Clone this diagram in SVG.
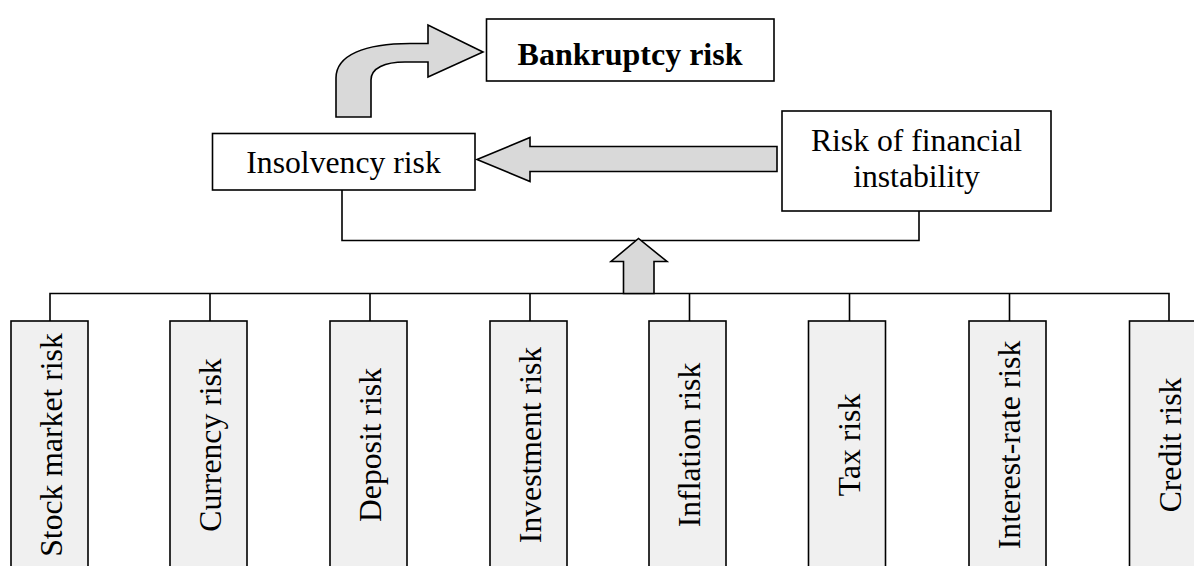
<svg xmlns="http://www.w3.org/2000/svg" width="1194" height="566" viewBox="0 0 1194 566">
  <style>
    .box { fill: #ffffff; stroke: #000000; stroke-width: 1.6; }
    .risk { fill: #f0f0f0; stroke: #000000; stroke-width: 1.6; }
    .arrow { fill: #d9d9d9; stroke: #000000; stroke-width: 1.6; stroke-linejoin: miter; }
    .wire { fill: none; stroke: #000000; stroke-width: 1.6; }
    .label { font-family: "Liberation Serif", "Times New Roman", serif; font-size: 31.7px; fill: #000000; text-anchor: middle; }
    .bold { font-weight: bold; font-size: 32px; }
  </style>

  <!-- connectors -->
  <g id="connectors">
    <!-- bracket joining the two middle-level boxes -->
    <path class="wire" d="M342,190 L342,240.5 L919,240.5 L919,211"/>
    <!-- bus feeding the eight risk boxes -->
    <path class="wire" d="M50,321 L50,293.5 L1169,293.5 L1169,321"/>
    <path class="wire" d="M210,293.5 V321 M370,293.5 V321 M530,293.5 V321 M689.5,293.5 V321 M849.5,293.5 V321 M1009.5,293.5 V321"/>
    <!-- block arrows -->
    <path class="arrow" d="M623.5,293.5 L623.5,261.5 L611,261.5 L638.5,238.5 L667,261.5 L654,261.5 L654,293.5 Z"/>
    <path class="arrow" d="M777,146.5 L530,146.5 L530,137.5 L477,159.5 L530,181.5 L530,171.5 L777,171.5 Z"/>
    <path class="arrow" d="M336,117 L336,78 C336,55 365,43.5 410,43.5 L428,43.5 L428,25 L483,52 L428,77 L428,62 L405,62 C385,62 371,68 371,80 L371,117 Z"/>
  </g>

  <g id="bankruptcy">
    <rect class="box" x="486.5" y="19" width="287.5" height="62"/>
    <text class="label bold" x="630" y="65">Bankruptcy risk</text>
  </g>

  <g id="insolvency">
    <rect class="box" x="212.5" y="133.5" width="262.5" height="56.5"/>
    <text class="label" x="343.5" y="173">Insolvency risk</text>
  </g>

  <g id="instability">
    <rect class="box" x="782" y="111" width="269" height="100"/>
    <text class="label" x="916.5" y="150.5">Risk of financial</text>
    <text class="label" x="916.5" y="187">instability</text>
  </g>

  <!-- risk factors, vertical labels read bottom-to-top -->
  <g id="stock-market">
    <rect class="risk" x="11" y="321" width="77" height="250"/>
    <text class="label" transform="translate(62,445) rotate(-90)">Stock market risk</text>
  </g>
  <g id="currency">
    <rect class="risk" x="170" y="321" width="77" height="250"/>
    <text class="label" transform="translate(221,445) rotate(-90)">Currency risk</text>
  </g>
  <g id="deposit">
    <rect class="risk" x="330" y="321" width="77" height="250"/>
    <text class="label" transform="translate(381,445) rotate(-90)">Deposit risk</text>
  </g>
  <g id="investment">
    <rect class="risk" x="490" y="321" width="77" height="250"/>
    <text class="label" transform="translate(541,445) rotate(-90)">Investment risk</text>
  </g>
  <g id="inflation">
    <rect class="risk" x="649" y="321" width="77" height="250"/>
    <text class="label" transform="translate(700,445) rotate(-90)">Inflation risk</text>
  </g>
  <g id="tax">
    <rect class="risk" x="808.5" y="321" width="77" height="250"/>
    <text class="label" transform="translate(860,445) rotate(-90)">Tax risk</text>
  </g>
  <g id="interest-rate">
    <rect class="risk" x="969" y="321" width="77" height="250"/>
    <text class="label" transform="translate(1020,445) rotate(-90)">Interest-rate risk</text>
  </g>
  <g id="credit">
    <rect class="risk" x="1129.5" y="321" width="77" height="250"/>
    <text class="label" transform="translate(1181,445) rotate(-90)">Credit risk</text>
  </g>
</svg>
